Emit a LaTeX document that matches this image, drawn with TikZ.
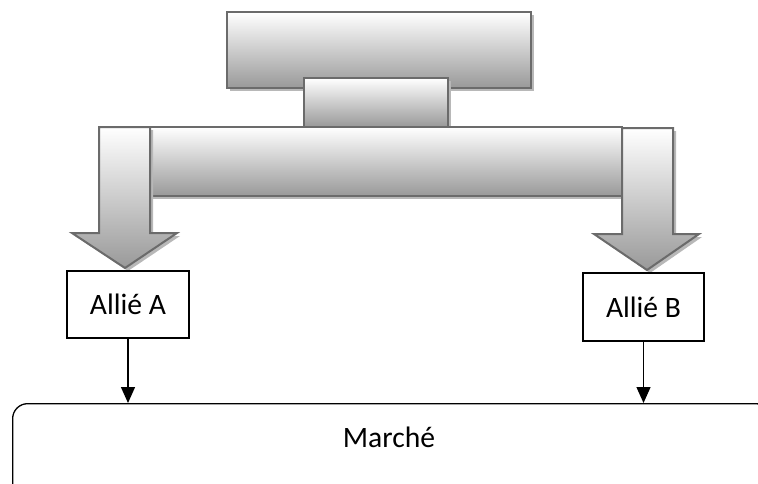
\documentclass[tikz,border=0pt]{standalone}
\usepackage{fontspec}
\setmainfont{Carlito}
\usepackage{tikz}
\usetikzlibrary{shapes,arrows.meta,shadows}
\usetikzlibrary{positioning}

\begin{document}
\begin{tikzpicture}[
    x=0.5pt, y=-0.5pt,
    node distance = 0mm,
every node/.style = {inner sep=2pt, font=\fontsize{14.8}{18}\selectfont},
    block/.style = {draw=black!58, line width=1pt,
                    top color=white, bottom color=black!40,
                    drop shadow={shadow xshift=1.5pt, shadow yshift=-1.5pt,
                                 fill=black!28, opacity=1}},
    ally/.style  = {draw, line width=0.65pt},
    conn/.style  = {-{Triangle[width=7pt,length=8pt]}, line width=0.65pt}]
\useasboundingbox (0,0) rectangle (758,483);
\clip (0,0) rectangle (758,483);

% stacked bars on top
\path[block] (227,12) rectangle (531,88);
\path[block] (304,78) rectangle (448,127);
\path[block] (150,127) rectangle (622,196);

% the two big arrows going down
\path[block] (99,127) -- (150,127) -- (150,233) -- (177,233)
    -- (125,268) -- (72,233) -- (99,233) -- cycle;
\path[block] (622,128) -- (673,128) -- (673,234) -- (699,234)
    -- (647,270) -- (594,234) -- (622,234) -- cycle;

\node[ally, minimum width=61pt, minimum height=33.5pt]
      (a) at (128,304.5)    {Allié A};
\node[ally, minimum width=60.5pt, minimum height=34pt]
      (b) at (643.5,307)    {Allié B};

% market box, runs off the page
\node[draw, line width=0.65pt, rounded corners=7.5pt,
      minimum width=379pt, minimum height=50pt,
      anchor=north west] (m) at (12,403) {};
\node[anchor=base] (t) at (389,447) {Marché};

\draw[conn] (a) -- (a |- m.north);
\draw[conn] (b) -- (b |- m.north);
\end{tikzpicture}
\end{document}
